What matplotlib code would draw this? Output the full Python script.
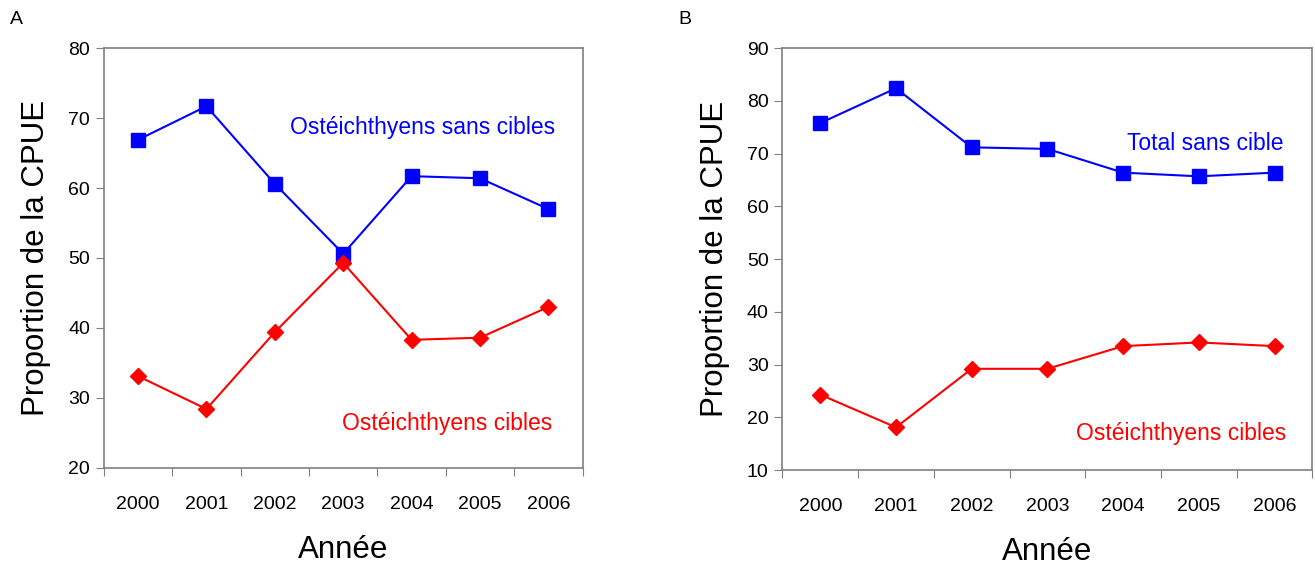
import numpy as np
import matplotlib.pyplot as plt

plt.rcParams['font.family'] = ['Liberation Sans', 'DejaVu Sans']

annees = ['2000', '2001', '2002', '2003', '2004', '2005', '2006']

# Panneau A
a_sans_cibles = [66.9, 71.7, 60.6, 50.6, 61.7, 61.4, 57.0]
a_cibles = [33.1, 28.4, 39.4, 49.3, 38.3, 38.6, 43.0]

# Panneau B
b_total_sans_cible = [75.8, 82.4, 71.2, 70.9, 66.4, 65.7, 66.4]
b_cibles = [24.3, 18.1, 29.2, 29.2, 33.5, 34.2, 33.5]

BLEU = '#0000ff'
ROUGE = '#ff0000'
GRIS = '#808080'


def panneau(ax, bleu, rouge, ymin, ymax, txt_bleu, pos_bleu, pos_rouge):
    x = np.arange(len(annees))
    ax.plot(x, bleu, color=BLEU, lw=1.5, marker='s', ms=9.5, mec=BLEU, mfc=BLEU)
    ax.plot(x, rouge, color=ROUGE, lw=1.5, marker='D', ms=8.5, mec=ROUGE, mfc=ROUGE)
    ax.set_xlim(-0.5, len(annees) - 0.5)
    ax.set_ylim(ymin, ymax)
    ax.set_yticks(np.arange(ymin, ymax + 1, 10))
    # graduations entre les catégories, étiquettes au centre
    ax.set_xticks(np.arange(-0.5, len(annees), 1.0))
    ax.set_xticklabels([])
    ax.set_xticks(x, minor=True)
    ax.set_xticklabels(annees, minor=True)
    ax.tick_params(axis='x', which='major', length=6, color=GRIS, direction='out')
    ax.tick_params(axis='x', which='minor', length=0, labelsize=14, pad=20)
    ax.tick_params(axis='y', length=6, color=GRIS, direction='out', labelsize=14, pad=4)
    for s in ax.spines.values():
        s.set_color(GRIS)
        s.set_linewidth(1.2)
    ax.set_ylabel('Proportion de la CPUE', fontsize=22.5, labelpad=12)
    ax.set_xlabel('Année', fontsize=22.5, labelpad=16)
    ax.text(pos_bleu[0], pos_bleu[1], txt_bleu, color=BLEU, fontsize=16.5,
            ha='right', va='center')
    ax.text(pos_rouge[0], pos_rouge[1], 'Ostéichthyens cibles', color=ROUGE,
            fontsize=16.5, ha='right', va='center')


fig = plt.figure(figsize=(13.15, 5.67), dpi=100)
ax1 = fig.add_axes([0.079, 0.175, 0.364, 0.74])
ax2 = fig.add_axes([0.595, 0.171, 0.403, 0.744])

panneau(ax1, a_sans_cibles, a_cibles, 20, 80, 'Ostéichthyens sans cibles',
        (6.1, 68.7), (6.06, 26.4))
panneau(ax2, b_total_sans_cible, b_cibles, 10, 90, 'Total sans cible',
        (6.12, 71.9), (6.16, 17.0))

fig.text(10 / 1315, 1 - 20 / 567, 'A', fontsize=14, va='center', ha='left')
fig.text(678 / 1315, 1 - 20 / 567, 'B', fontsize=14, va='center', ha='left')

fig.savefig('out.png', dpi=100)
